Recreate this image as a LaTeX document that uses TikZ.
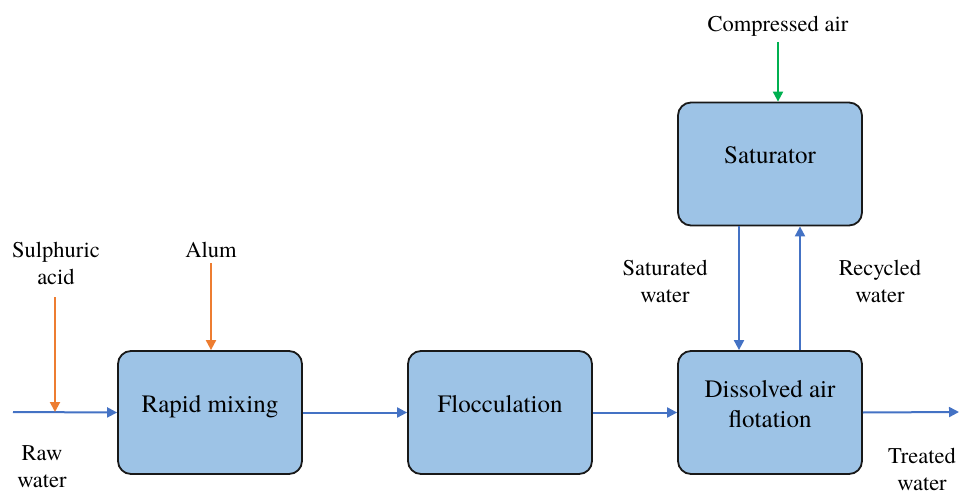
\documentclass[tikz,border=0pt]{standalone}
\usepackage{fontspec}
\setmainfont{texgyretermes}[Extension=.otf, UprightFont=*-regular, BoldFont=*-bold]
\usetikzlibrary{positioning, shapes, arrows.meta}

\definecolor{boxblue}{RGB}{157,195,230}
\definecolor{flowblue}{RGB}{68,114,196}
\definecolor{dosorange}{RGB}{237,125,49}
\definecolor{airgreen}{RGB}{0,176,80}

\begin{document}
\begin{tikzpicture}[x=1pt, y=-1pt,
        unit/.style={draw=black!90, line width=1.8pt, fill=boxblue, rounded corners=13pt,
            minimum width=184pt, minimum height=123pt, align=center,
            font=\fontsize{25}{30}\selectfont, text height=7pt, text depth=7pt},
        lbl/.style={align=center, anchor=base, font=\fontsize{22.5}{27}\selectfont},
        flow/.style={flowblue, line width=2pt, -{Triangle[length=10pt, width=10pt]}},
        dose/.style={dosorange, line width=2pt, -{Triangle[length=10pt, width=10pt]}},
        air/.style={airgreen, line width=2pt, -{Triangle[length=10pt, width=10pt]}}]
    \useasboundingbox (0,0) rectangle (960,494);

        % Draw the process units
        \node[unit] (mix) at (210,412.5) {Rapid mixing};
        \node[unit] (floc) at (500,412.5) {Flocculation};
        \node[unit, text height=37.5pt, text depth=7.5pt] (daf) at (770,412.5) {Dissolved air\\flotation};
        \node[unit] (sat) at (770,164) {Saturator};

        % Draw the stream labels (base = last line)
        \node[lbl] (acid) at (56,284) {Sulphuric\\acid};
        \node[lbl] (alum) at (211,257) {Alum};
        \node[lbl] (raw) at (42,487) {Raw\\water};
        \node[lbl] (cair) at (778,32) {Compressed air};
        \node[lbl] (satw) at (665,302) {Saturated\\water};
        \node[lbl] (recw) at (880,302) {Recycled\\water};
        \node[lbl] (treat) at (922,490) {Treated\\water};

        % Free ends of the streams
        \coordinate (rawin) at (13,412);
        \coordinate (acidin) at (55,297);
        \coordinate (aciddose) at (55,412);
        \coordinate (alumin) at (211,263);
        \coordinate (airin) at (778,42);
        \coordinate (treatout) at (959,412);
        \coordinate (s1) at ([xshift=-31pt]sat.south);
        \coordinate (s2) at ([xshift=-31pt]daf.north);
        \coordinate (r1) at ([xshift=30pt]daf.north);
        \coordinate (r2) at ([xshift=30pt]sat.south);

        % Draw the main water line
        \draw[flow] (rawin) -- (mix.west);
        \draw[flow] (mix.east) -- (floc.west);
        \draw[flow] (floc.east) -- (daf.west);
        \draw[flow] (daf.east) -- (treatout);

        % Draw the chemical dosing
        \draw[dose] (acidin) -- (aciddose);
        \draw[dose] (alumin) -- (alumin |- mix.north);

        % Draw the saturator loop
        \draw[air] (airin) -- (airin |- sat.north);
        \draw[flow] (s1) -- (s2);
        \draw[flow] (r1) -- (r2);
\end{tikzpicture}
\end{document}
